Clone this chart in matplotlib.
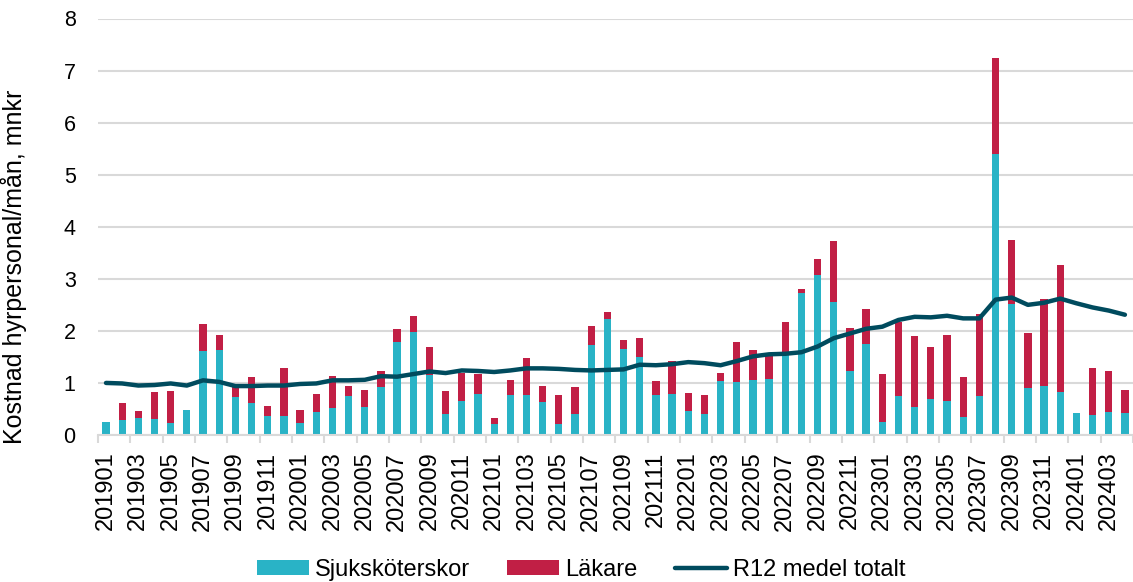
import numpy as np
import matplotlib.pyplot as plt

plt.rcParams['font.family'] = ['Liberation Sans', 'DejaVu Sans']

# month labels 201901 .. 202404
months = [f"{y}{m:02d}" for y in range(2019, 2025) for m in range(1, 13)][:64]

sjukskoterskor = [0.25, 0.28, 0.33, 0.31, 0.23, 0.48, 1.62, 1.63, 0.73, 0.61, 0.37, 0.37,
                  0.24, 0.45, 0.51, 0.75, 0.54, 0.92, 1.78, 1.97, 1.15, 0.41, 0.65, 0.78,
                  0.21, 0.76, 0.76, 0.63, 0.21, 0.40, 1.73, 2.23, 1.65, 1.49, 0.77, 0.79,
                  0.46, 0.40, 1.04, 1.01, 1.06, 1.08, 1.55, 2.72, 3.08, 2.56, 1.23, 1.74,
                  0.25, 0.74, 0.53, 0.70, 0.65, 0.34, 0.75, 5.40, 2.51, 0.90, 0.95, 0.83,
                  0.42, 0.38, 0.44, 0.42]

lakare = [-0.02, 0.33, 0.14, 0.51, 0.62, -0.02, 0.51, 0.29, 0.19, 0.50, 0.18, 0.91,
          0.24, 0.33, 0.63, 0.19, 0.32, 0.31, 0.25, 0.31, 0.54, 0.43, 0.54, 0.40,
          0.11, 0.29, 0.71, 0.31, 0.56, 0.53, 0.36, 0.14, 0.18, 0.37, 0.27, 0.63,
          0.34, 0.37, 0.15, 0.78, 0.58, 0.50, 0.63, 0.08, 0.30, 1.17, 0.83, 0.68,
          0.93, 1.43, 1.37, 0.99, 1.27, 0.77, 1.57, 1.85, 1.24, 1.05, 1.66, 2.43,
          -0.03, 0.91, 0.79, 0.44]

r12 = [1.00, 0.99, 0.95, 0.96, 0.99, 0.95, 1.05, 1.02, 0.94, 0.94, 0.95, 0.95,
       0.98, 0.99, 1.05, 1.05, 1.06, 1.13, 1.12, 1.17, 1.22, 1.19, 1.24, 1.23,
       1.21, 1.24, 1.28, 1.28, 1.27, 1.25, 1.24, 1.25, 1.26, 1.35, 1.34, 1.36,
       1.40, 1.38, 1.34, 1.42, 1.51, 1.55, 1.56, 1.59, 1.70, 1.86, 1.95, 2.04,
       2.08, 2.21, 2.27, 2.26, 2.29, 2.24, 2.24, 2.60, 2.64, 2.50, 2.54, 2.62,
       2.53, 2.45, 2.39, 2.31]

teal = '#29B3C6'
red = '#C11F45'
dark = '#004B5E'
grid = '#D9D9D9'

fig = plt.figure(figsize=(11.33, 5.82), dpi=100)
ax = fig.add_axes([97.9 / 1133, 1 - 435 / 582, 1 - 97.9 / 1133, (435 - 18.5) / 582])

x = np.arange(len(months))
s = np.array(sjukskoterskor)
l = np.array(lakare)
bottom_l = np.where(l >= 0, s, 0)

ax.bar(x, s, width=0.45, color=teal, label='Sjuksköterskor', zorder=2)
ax.bar(x, l, width=0.45, bottom=bottom_l, color=red, label='Läkare', zorder=2)
ax.plot(x, r12, color=dark, lw=3.2, solid_capstyle='round', label='R12 medel totalt', zorder=3)

ax.set_xlim(-0.5, len(months) - 0.5)
ax.set_ylim(0, 8)
ax.set_yticks(range(0, 9))
ax.yaxis.grid(True, color=grid, lw=1.5, zorder=0)
ax.set_axisbelow(True)

ax.set_xticks(x[::2])
ax.set_xticklabels(months[::2], rotation=90)
ax.set_xticks(np.arange(-0.5, len(months), 2), minor=True)
ax.tick_params(axis='x', which='major', length=0, pad=12, labelsize=17)
ax.tick_params(axis='x', which='minor', length=6, color=grid, width=1.5)
ax.tick_params(axis='y', length=0, pad=16, labelsize=15.5)

for sp in ['top', 'right', 'left']:
    ax.spines[sp].set_visible(False)
ax.spines['bottom'].set_color(grid)
ax.spines['bottom'].set_linewidth(1.5)

ax.set_ylabel('Kostnad hyrpersonal/mån, mnkr', fontsize=18)
ax.yaxis.set_label_coords(-0.0685, 0.405)

handles, labels = ax.get_legend_handles_labels()
order = [1, 2, 0]
fig.legend([handles[i] for i in order], [labels[i] for i in order],
           loc='center', bbox_to_anchor=(0.513, 1 - 570 / 582), ncol=3, frameon=False,
           fontsize=17, handlelength=2.2, handleheight=0.6, handletextpad=0.25,
           columnspacing=1.6)

fig.savefig('out.png', dpi=100)
